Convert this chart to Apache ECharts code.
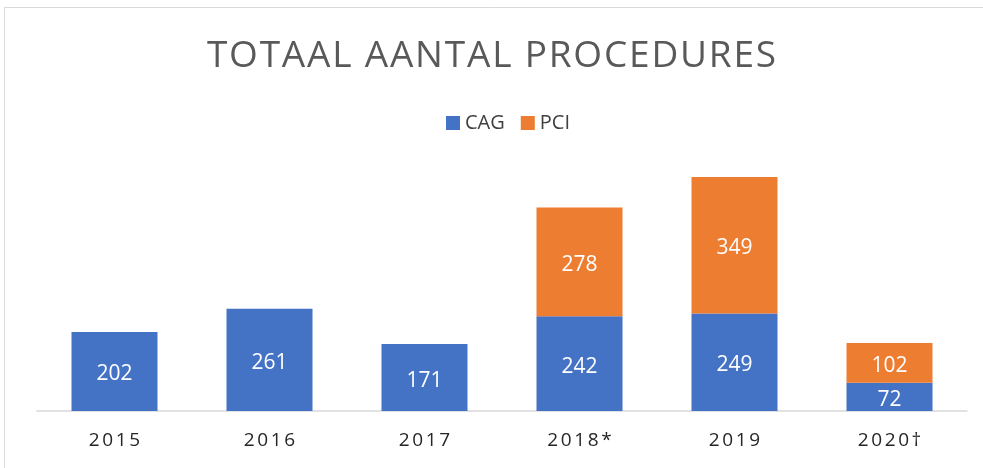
<!DOCTYPE html>
<html>
<head>
<meta charset="utf-8">
<script src="https://cdn.jsdelivr.net/npm/echarts@6/dist/echarts.min.js"></script>
<style>
  html, body { margin: 0; padding: 0; background: #fff; }
  #chart { width: 983px; height: 468px; }
</style>
</head>
<body>
<div id="chart"></div>
<script>
var years = ['2015', '2016', '2017', '2018*', '2019', '2020†'];
var cag = [202, 261, 171, 242, 249, 72];
var pci = [null, null, null, 278, 349, 102];
var titleText = 'TOTAAL AANTAL PROCEDURES';

// letter spacing: wrap every character in a rich segment with side padding
function spaced(str, tag) {
    return str.split('').map(function (c) { return '{' + tag + '|' + c + '}'; }).join('');
}

var chart = echarts.init(document.getElementById('chart'));

var labelStyle = {
    show: true,
    position: 'inside',
    offset: [0, 3],
    color: '#fff',
    fontSize: 21,
    fontFamily: 'Open Sans'
};

chart.setOption({
    animation: false,
    title: {
        text: spaced(titleText, 't'),
        left: 'center',
        top: 33,
        textStyle: {
            fontWeight: 'normal',
            rich: {
                t: {
                    color: '#595959',
                    fontSize: 37,
                    fontWeight: 'normal',
                    fontFamily: 'Open Sans',
                    padding: [0, 0.9, 0, 0.9]
                }
            }
        }
    },
    legend: {
        top: 108,
        left: 441,
        itemWidth: 14,
        itemHeight: 14,
        itemGap: 16,
        icon: 'rect',
        textStyle: { color: '#404040', fontSize: 20, fontFamily: 'Open Sans' },
        data: ['CAG', 'PCI']
    },
    graphic: [{
        type: 'rect',
        shape: { x: 4.5, y: 7.5, width: 990, height: 470 },
        style: { fill: 'none', stroke: '#d9d9d9', lineWidth: 1 },
        silent: true
    }],
    grid: { left: 37, right: 16, top: 137, bottom: 57 },
    xAxis: {
        type: 'category',
        data: years,
        axisTick: { show: false },
        axisLine: { lineStyle: { color: '#d9d9d9', width: 1.5 } },
        axisLabel: {
            interval: 0,
            hideOverlap: false,
            margin: 20,
            formatter: function (v) { return spaced(v, 'a'); },
            rich: {
                a: {
                    color: '#262626',
                    fontSize: 19,
                    fontFamily: 'Open Sans',
                    padding: [0, 1.3, 0, 1.3]
                }
            }
        }
    },
    yAxis: {
        type: 'value',
        min: 0,
        max: 700,
        show: false,
        splitLine: { show: false }
    },
    series: [
        {
            name: 'CAG',
            type: 'bar',
            stack: 'total',
            barWidth: 86,
            itemStyle: { color: '#4472c4' },
            label: labelStyle,
            data: cag
        },
        {
            name: 'PCI',
            type: 'bar',
            stack: 'total',
            barWidth: 86,
            itemStyle: { color: '#ed7d31' },
            label: labelStyle,
            data: pci
        }
    ]
});
</script>
</body>
</html>
